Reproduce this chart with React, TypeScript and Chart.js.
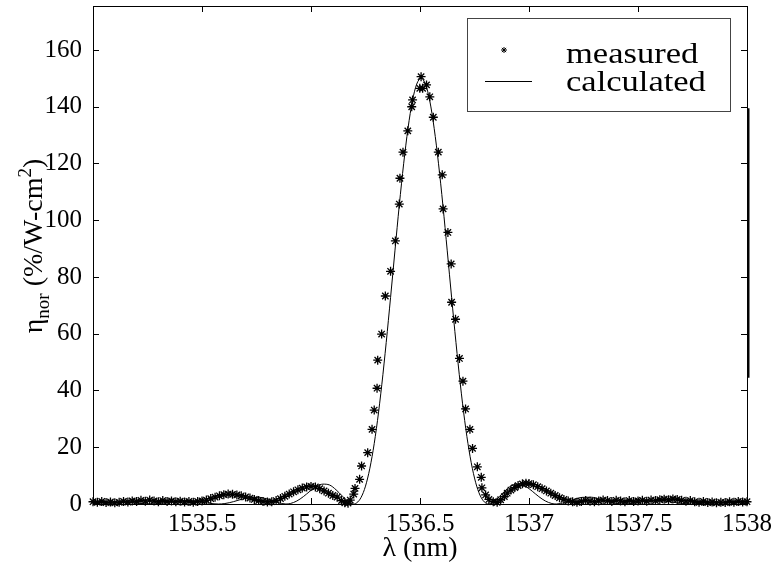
import React, { useEffect, useRef } from "react";
import { Chart, registerables } from "chart.js";

Chart.register(...registerables);

// Measured efficiency (stars)
const measX: number[] = [
  1535.00, 1535.02, 1535.04, 1535.06, 1535.08, 1535.10, 1535.12, 1535.14, 1535.16, 1535.18,
  1535.20, 1535.22, 1535.24, 1535.26, 1535.28, 1535.30, 1535.32, 1535.34, 1535.36, 1535.38,
  1535.40, 1535.42, 1535.44, 1535.46, 1535.48, 1535.50, 1535.52, 1535.54, 1535.56, 1535.58,
  1535.60, 1535.62, 1535.64, 1535.66, 1535.68, 1535.70, 1535.72, 1535.74, 1535.76, 1535.78,
  1535.80, 1535.82, 1535.84, 1535.86, 1535.88, 1535.90, 1535.92, 1535.94, 1535.96, 1535.98,
  1536.00, 1536.02, 1536.04, 1536.06, 1536.08, 1536.10, 1536.12, 1536.14, 1536.155, 1536.17,
  1536.18, 1536.196, 1536.202, 1536.223, 1536.232, 1536.26, 1536.28, 1536.29, 1536.303, 1536.306,
  1536.324, 1536.341, 1536.365, 1536.387, 1536.405, 1536.408, 1536.422, 1536.444, 1536.462, 1536.466,
  1536.499, 1536.505, 1536.512, 1536.53, 1536.545, 1536.561, 1536.584, 1536.602, 1536.606, 1536.628,
  1536.643, 1536.645, 1536.663, 1536.681, 1536.697, 1536.709, 1536.729, 1536.741, 1536.763, 1536.781,
  1536.784, 1536.801, 1536.816, 1536.836, 1536.854, 1536.87, 1536.887, 1536.90, 1536.917, 1536.935,
  1536.95, 1536.97, 1536.986, 1537.00, 1537.02, 1537.04, 1537.06, 1537.08, 1537.10, 1537.12,
  1537.14, 1537.16, 1537.18, 1537.20, 1537.22, 1537.24, 1537.26, 1537.28, 1537.30, 1537.32,
  1537.34, 1537.36, 1537.38, 1537.40, 1537.42, 1537.44, 1537.46, 1537.48, 1537.50, 1537.52,
  1537.54, 1537.56, 1537.58, 1537.60, 1537.62, 1537.64, 1537.66, 1537.68, 1537.70, 1537.72,
  1537.74, 1537.76, 1537.78, 1537.80, 1537.82, 1537.84, 1537.86, 1537.88, 1537.90, 1537.92,
  1537.94, 1537.96, 1537.98, 1538.00,
];
const measY: number[] = [
  0.8, 0.6, 0.9, 0.5, 0.7, 0.4, 0.6, 0.9, 0.7, 1.1,
  0.9, 1.3, 1.0, 1.4, 1.1, 0.8, 1.2, 0.9, 1.1, 0.8,
  1.0, 0.7, 0.9, 0.6, 0.9, 1.1, 1.4, 1.9, 2.4, 2.9,
  3.3, 3.5, 3.4, 3.2, 2.9, 2.5, 2.1, 1.6, 1.2, 0.9,
  0.7, 0.8, 1.2, 1.9, 2.7, 3.5, 4.3, 5.0, 5.6, 6.0,
  6.2, 6.0, 5.4, 4.6, 3.8, 3.0, 2.4, 1.2, 0.4, 0.3,
  1.4, 3.5, 5.5, 8.7, 13.4, 18.1, 26.3, 33.1, 40.8, 50.7,
  59.9, 73.3, 82.0, 92.7, 105.7, 114.8, 124.0, 131.5, 140.0, 142.4,
  146.5, 150.6, 146.5, 147.7, 143.5, 136.3, 124.0, 116.0, 104.0, 95.7,
  84.6, 71.1, 65.1, 51.3, 43.3, 33.5, 26.3, 19.6, 13.1, 9.4,
  5.7, 3.2, 1.6, 0.8, 0.6, 1.5, 2.6, 3.8, 4.9, 5.8,
  6.5, 7.1, 7.3, 7.2, 6.8, 6.1, 5.4, 4.6, 3.8, 3.0,
  2.2, 1.6, 1.1, 0.8, 0.6, 0.9, 1.2, 1.0, 0.8, 1.1,
  1.4, 1.2, 0.9, 1.3, 1.1, 0.8, 1.2, 0.9, 1.1, 1.3,
  1.0, 1.4, 1.2, 1.5, 1.7, 1.5, 1.8, 1.6, 1.3, 1.0,
  1.2, 0.8, 0.6, 0.9, 0.5, 0.7, 0.4, 0.6, 0.5, 0.8,
  0.6, 0.9, 0.7, 0.8,
];

// Calculated efficiency (solid line)
const calcX: number[] = [
  1535.000, 1535.025, 1535.115, 1535.205, 1535.265, 1535.305, 1535.365, 1535.425, 1535.485, 1535.535,
  1535.575, 1535.605, 1535.645, 1535.685, 1535.725, 1535.765, 1535.805, 1535.845, 1535.885, 1535.905,
  1535.935, 1535.965, 1535.995, 1536.025, 1536.055, 1536.085, 1536.115, 1536.145, 1536.175, 1536.195,
  1536.205, 1536.225, 1536.245, 1536.265, 1536.285, 1536.305, 1536.325, 1536.345, 1536.365, 1536.385,
  1536.405, 1536.425, 1536.445, 1536.465, 1536.485, 1536.505, 1536.525, 1536.545, 1536.565, 1536.585,
  1536.605, 1536.625, 1536.645, 1536.665, 1536.685, 1536.705, 1536.725, 1536.745, 1536.765, 1536.785,
  1536.805, 1536.815, 1536.835, 1536.865, 1536.895, 1536.925, 1536.955, 1536.985, 1537.015, 1537.045,
  1537.075, 1537.105, 1537.125, 1537.165, 1537.205, 1537.245, 1537.285, 1537.325, 1537.365, 1537.405,
  1537.435, 1537.475, 1537.525, 1537.585, 1537.645, 1537.705, 1537.745, 1537.805, 1537.895, 1537.985,
  1538.000,
];
const calcY: number[] = [
  0.13, 0.28, 0.75, 0.28, 0.0, 0.16, 0.81, 1.25, 0.88, 0.24,
  0.0, 0.16, 0.84, 1.75, 2.39, 2.34, 1.57, 0.52, 0.0, 0.16,
  1.06, 2.6, 4.5, 6.2, 7.0, 6.7, 5.0, 2.7, 0.54, 0.0,
  0.17, 1.7, 5.1, 10.8, 18.9, 29.4, 42.2, 56.9, 72.8, 89.2,
  105.3, 119.9, 132.4, 142.0, 148.0, 150.0, 148.0, 142.0, 132.4, 119.9,
  105.3, 89.2, 72.8, 56.9, 42.2, 29.4, 18.9, 10.8, 5.1, 1.7,
  0.17, 0.0, 0.54, 2.7, 5.0, 6.7, 7.0, 6.2, 4.5, 2.6,
  1.06, 0.16, 0.0, 0.52, 1.57, 2.34, 2.39, 1.75, 0.84, 0.16,
  0.0, 0.24, 0.88, 1.25, 0.81, 0.16, 0.0, 0.28, 0.75, 0.28,
  0.13,
];

const xTicks: number[] = [1535.5, 1536, 1536.5, 1537, 1537.5, 1538];
const yTicks: number[] = [0, 20, 40, 60, 80, 100, 120, 140, 160];
const legendLabels: string[] = ["measured", "calculated"];

const SERIF = '"Liberation Serif", serif';

function drawStar(ctx: CanvasRenderingContext2D, x: number, y: number, r: number) {
  ctx.beginPath();
  ctx.moveTo(x - r, y); ctx.lineTo(x + r, y);
  ctx.moveTo(x, y - r); ctx.lineTo(x, y + r);
  const d = r * 0.7071;
  ctx.moveTo(x - d, y - d); ctx.lineTo(x + d, y + d);
  ctx.moveTo(x - d, y + d); ctx.lineTo(x + d, y - d);
  ctx.stroke();
}

const framePlugin = {
  id: "matlabFrame",
  afterDraw(chart: any) {
    const { ctx, chartArea } = chart;
    const xs = chart.scales.x;
    const ys = chart.scales.y;
    const L = chartArea.left, R = chartArea.right, T = chartArea.top, B = chartArea.bottom;
    ctx.save();
    ctx.strokeStyle = "#000";
    ctx.lineWidth = 1;
    ctx.strokeRect(Math.round(L) + 0.5, Math.round(T) + 0.5, Math.round(R - L), Math.round(B - T));
    const tl = 6;
    ctx.beginPath();
    xTicks.forEach((v) => {
      if (v >= 1538) return;
      const px = Math.round(xs.getPixelForValue(v)) + 0.5;
      ctx.moveTo(px, B); ctx.lineTo(px, B - tl);
      ctx.moveTo(px, T); ctx.lineTo(px, T + tl);
    });
    yTicks.forEach((v) => {
      if (v === 0) return;
      const py = Math.round(ys.getPixelForValue(v)) + 0.5;
      ctx.moveTo(L, py); ctx.lineTo(L + tl, py);
      ctx.moveTo(R, py); ctx.lineTo(R - tl, py);
    });
    ctx.stroke();
    // darker right edge segment
    ctx.lineWidth = 2;
    ctx.beginPath();
    ctx.moveTo(Math.round(R) + 1.5, ys.getPixelForValue(139.5));
    ctx.lineTo(Math.round(R) + 1.5, ys.getPixelForValue(44.5));
    ctx.stroke();

    // x title
    ctx.fillStyle = "#000";
    ctx.font = `28px ${SERIF}`;
    ctx.textAlign = "center";
    ctx.textBaseline = "alphabetic";
    ctx.fillText("λ (nm)", (L + R) / 2, 556);

    // y title with subscript / superscript
    const big = `28px ${SERIF}`;
    const small = `19px ${SERIF}`;
    const parts: [string, string, number][] = [
      ["η", big, 0],
      ["nor", small, 7],
      [" (%/W-cm", big, 0],
      ["2", small, -11],
      [")", big, 0],
    ];
    let total = 0;
    parts.forEach(([t, f]) => { ctx.font = f; total += ctx.measureText(t).width; });
    ctx.translate(42, 246);
    ctx.rotate(-Math.PI / 2);
    ctx.textAlign = "left";
    let cx = -total / 2;
    parts.forEach(([t, f, dy]) => {
      ctx.font = f;
      ctx.fillText(t, cx, dy);
      cx += ctx.measureText(t).width;
    });
    ctx.setTransform(1, 0, 0, 1, 0, 0);

    // legend
    ctx.fillStyle = "#fff";
    ctx.fillRect(467, 18, 263, 94);
    ctx.strokeStyle = "#444";
    ctx.lineWidth = 1;
    ctx.strokeRect(467.5, 18.5, 263, 93);
    ctx.strokeStyle = "#000";
    ctx.lineWidth = 1;
    drawStar(ctx, 504, 50, 3);
    ctx.beginPath();
    ctx.moveTo(485, 81.5); ctx.lineTo(532, 81.5);
    ctx.stroke();
    ctx.fillStyle = "#000";
    ctx.font = `29px ${SERIF}`;
    ctx.textAlign = "left";
    ctx.save(); ctx.translate(566, 63); ctx.scale(1.19, 1); ctx.fillText(legendLabels[0], 0, 0); ctx.restore();
    ctx.save(); ctx.translate(566, 91); ctx.scale(1.19, 1); ctx.fillText(legendLabels[1], 0, 0); ctx.restore();
    ctx.restore();
  },
};

export default function App() {
  const ref = useRef<HTMLCanvasElement | null>(null);
  useEffect(() => {
    if (!ref.current) return;
    let chart: Chart | null = null;
    let cancelled = false;
    const make = () => {
      if (cancelled || !ref.current) return;
      chart = new Chart(ref.current, {
        type: "scatter",
        data: {
          datasets: [
            {
              label: legendLabels[1],
              data: calcX.map((x, i) => ({ x, y: calcY[i] })),
              showLine: true,
              borderColor: "#000",
              borderWidth: 1,
              pointRadius: 0,
              cubicInterpolationMode: "monotone",
            } as any,
            {
              label: legendLabels[0],
              data: measX.map((x, i) => ({ x, y: measY[i] })),
              showLine: false,
              pointStyle: "star",
              pointRadius: 4.5,
              pointBorderWidth: 1.3,
              pointBorderColor: "#000",
              pointBackgroundColor: "#000",
              clip: 6,
            } as any,
          ],
        },
        options: {
          responsive: false,
          animation: false,
          devicePixelRatio: 1,
          layout: { padding: { left: 0, right: 31, top: 6, bottom: 0 } },
          plugins: { legend: { display: false }, tooltip: { enabled: false } },
          scales: {
            x: {
              type: "linear",
              min: 1535,
              max: 1538,
              afterFit: (s: any) => { s.height = 62; s.paddingLeft = 0; s.paddingRight = 0; },
              afterBuildTicks: (s: any) => { s.ticks = [1535, ...xTicks].map((v) => ({ value: v })); },
              grid: { display: false, drawTicks: false },
              border: { display: false },
              ticks: {
                padding: 5,
                color: "#000",
                font: { family: SERIF, size: 25 },
                maxRotation: 0,
                autoSkip: false,
                callback: (v: any) => (v === 1535 ? "" : String(v)),
              },
            },
            y: {
              type: "linear",
              min: 0,
              max: 175.5,
              afterFit: (s: any) => { s.width = 93; s.paddingTop = 0; s.paddingBottom = 0; },
              afterBuildTicks: (s: any) => { s.ticks = yTicks.map((v) => ({ value: v })); },
              grid: { display: false, drawTicks: false },
              border: { display: false },
              ticks: {
                padding: 11,
                color: "#000",
                font: { family: SERIF, size: 25 },
                callback: (v: any) => String(v),
              },
            },
          },
        },
        plugins: [framePlugin],
      });
    };
    const fonts: any = (document as any).fonts;
    if (fonts && fonts.load) {
      Promise.all([fonts.load('25px "Liberation Serif"'), fonts.load('28px "Liberation Serif"')])
        .then(make, make);
    } else {
      make();
    }
    return () => {
      cancelled = true;
      if (chart) chart.destroy();
    };
  }, []);
  return (
    <div style={{ position: "absolute", left: 0, top: 0, width: 778, height: 566, background: "#fff" }}>
      <canvas ref={ref} width={778} height={566} />
    </div>
  );
}
